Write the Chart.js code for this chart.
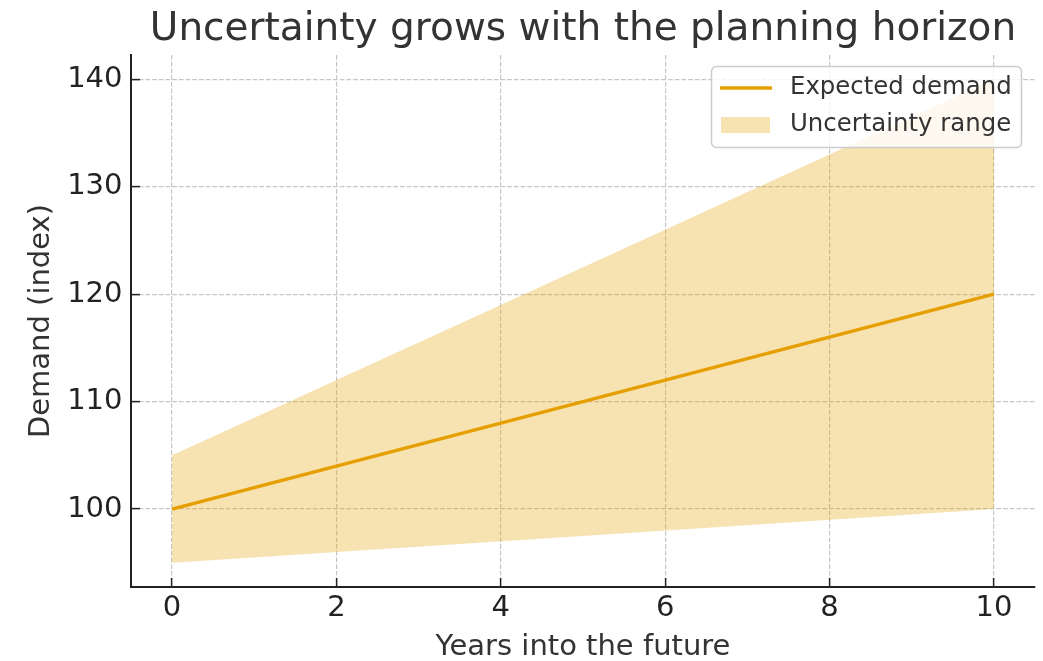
<!DOCTYPE html>
<html>
<head>
<meta charset="utf-8">
<script src="https://cdn.jsdelivr.net/npm/chart.js@4.4.1/dist/chart.umd.min.js"></script>
<style>
html,body{margin:0;padding:0;background:#fff;overflow:hidden;}
#wrap{width:1043px;height:661px;}
</style>
</head>
<body>
<div id="wrap"><canvas id="c" width="1043" height="661"></canvas></div>
<script>
// ---- data ----
const years = [0, 1, 2, 3, 4, 5, 6, 7, 8, 9, 10];
const expectedDemand = [100, 102, 104, 106, 108, 110, 112, 114, 116, 118, 120];
const upperBound = [105, 108.5, 112, 115.5, 119, 122.5, 126, 129.5, 133, 136.5, 140];
const lowerBound = [95, 95.5, 96, 96.5, 97, 97.5, 98, 98.5, 99, 99.5, 100];
const xTicks = [0, 2, 4, 6, 8, 10];
const yTicks = [100, 110, 120, 130, 140];
const seriesLabels = ['Expected demand', 'Uncertainty range'];
const titleText = 'Uncertainty grows with the planning horizon';
const xLabel = 'Years into the future';
const yLabel = 'Demand (index)';

const FONT = "'DejaVu Sans', 'Liberation Sans', sans-serif";
const LINE_COLOR = '#E69F00';
const FILL_COLOR = 'rgba(230,159,0,0.3)';
const GRID_COLOR = '#c6c6c6';
const AXIS_COLOR = '#222222';

const toPts = arr => years.map((x, i) => ({x: x, y: arr[i]}));

const legendPlugin = {
  id: 'boxLegend',
  afterDraw(chart) {
    const ctx = chart.ctx;
    const ds = chart.data.datasets;
    ctx.save();
    const bx = 711.5, by = 66.5, bw = 310, bh = 81, r = 5;
    ctx.beginPath();
    ctx.moveTo(bx + r, by);
    ctx.lineTo(bx + bw - r, by);
    ctx.arcTo(bx + bw, by, bx + bw, by + r, r);
    ctx.lineTo(bx + bw, by + bh - r);
    ctx.arcTo(bx + bw, by + bh, bx + bw - r, by + bh, r);
    ctx.lineTo(bx + r, by + bh);
    ctx.arcTo(bx, by + bh, bx, by + bh - r, r);
    ctx.lineTo(bx, by + r);
    ctx.arcTo(bx, by, bx + r, by, r);
    ctx.closePath();
    ctx.fillStyle = 'rgba(255,255,255,0.8)';
    ctx.fill();
    ctx.strokeStyle = '#cccccc';
    ctx.lineWidth = 1.5;
    ctx.stroke();
    ctx.strokeStyle = ds[0].borderColor;
    ctx.lineWidth = 3.5;
    ctx.beginPath();
    ctx.moveTo(720, 88);
    ctx.lineTo(772, 88);
    ctx.stroke();
    ctx.fillStyle = ds[2].backgroundColor;
    ctx.fillRect(721, 117, 49, 16);
    ctx.fillStyle = '#333333';
    ctx.font = '24.4px ' + FONT;
    ctx.textBaseline = 'middle';
    ctx.textAlign = 'left';
    ctx.fillText(ds[0].label, 790, 88);
    ctx.fillText(ds[2].label, 790, 125);
    ctx.restore();
  }
};

const ctx = document.getElementById('c').getContext('2d');
new Chart(ctx, {
  type: 'line',
  data: {
    datasets: [
      {
        label: seriesLabels[0],
        data: toPts(expectedDemand),
        borderColor: LINE_COLOR,
        borderWidth: 3.5,
        pointRadius: 0,
        fill: false,
        tension: 0
      },
      {
        label: 'lower',
        data: toPts(lowerBound),
        borderColor: 'rgba(0,0,0,0)',
        borderWidth: 0,
        pointRadius: 0,
        fill: false
      },
      {
        label: seriesLabels[1],
        data: toPts(upperBound),
        borderColor: 'rgba(0,0,0,0)',
        backgroundColor: FILL_COLOR,
        borderWidth: 0,
        pointRadius: 0,
        fill: '-1'
      }
    ]
  },
  options: {
    responsive: false,
    animation: false,
    devicePixelRatio: 1,
    layout: {padding: {left: 0, right: 8, top: 0, bottom: 0}},
    plugins: {
      legend: {display: false},
      tooltip: {enabled: false},
      title: {
        display: true,
        text: titleText,
        fullSize: false,
        color: '#333333',
        font: {family: FONT, size: 39, weight: 'normal', lineHeight: 1.2},
        padding: {top: 6, bottom: 2.2}
      }
    },
    scales: {
      x: {
        type: 'linear',
        min: -0.5,
        max: 10.5,
        afterBuildTicks: s => { s.ticks = xTicks.map(v => ({value: v})); },
        afterFit: s => { s.height = 74; },
        grid: {
          color: GRID_COLOR,
          lineWidth: 1.2,
          drawTicks: true,
          tickLength: -9,
          tickColor: AXIS_COLOR,
          tickWidth: 1.5
        },
        border: {display: true, color: AXIS_COLOR, width: 2, dash: [4.7, 2]},
        ticks: {
          color: '#222222',
          font: {family: FONT, size: 29, lineHeight: 1},
          padding: 15.5,
          maxRotation: 0,
          callback: v => String(v)
        },
        title: {
          display: true,
          text: xLabel,
          color: '#333333',
          font: {family: FONT, size: 29, lineHeight: 0.9},
          padding: {top: 0, bottom: 0}
        }
      },
      y: {
        type: 'linear',
        min: 92.75,
        max: 142.25,
        afterBuildTicks: s => { s.ticks = yTicks.map(v => ({value: v})); },
        afterFit: s => { s.width = 131; },
        grid: {
          color: GRID_COLOR,
          lineWidth: 1.2,
          drawTicks: true,
          tickLength: -9,
          tickColor: AXIS_COLOR,
          tickWidth: 1.5
        },
        border: {display: true, color: AXIS_COLOR, width: 2, dash: [4.7, 2]},
        ticks: {
          color: '#222222',
          font: {family: FONT, size: 29, lineHeight: 1},
          padding: 17.5,
          callback: v => String(v)
        },
        title: {
          display: true,
          text: yLabel,
          color: '#333333',
          font: {family: FONT, size: 29, lineHeight: 0.9},
          padding: {top: 28, bottom: 0}
        }
      }
    }
  },
  plugins: [legendPlugin]
});
</script>
</body>
</html>
